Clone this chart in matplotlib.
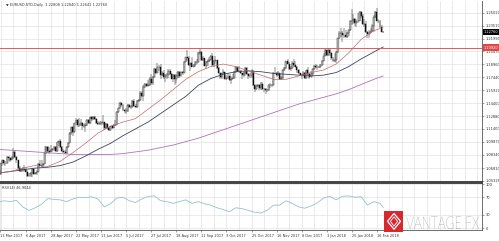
import matplotlib
matplotlib.use("Agg")
import matplotlib.pyplot as plt
import matplotlib.transforms as mtransforms
import numpy as np
import pandas as pd
from matplotlib.font_manager import FontProperties
from matplotlib.patches import PathPatch, Polygon, Rectangle
from matplotlib.textpath import TextPath

W, H = 499, 241

# EURUSD.STD daily bars, 13 Mar 2017 .. 22 Feb 2018 (no bars on 25 Dec / 1 Jan)
days = pd.bdate_range("2017-03-13", "2018-02-22")
days = days[~days.isin(pd.to_datetime(["2017-12-25", "2018-01-01"]))]

first_open = 1.067
closes = [
    # Mar
    1.066, 1.061, 1.074, 1.077, 1.074, 1.074, 1.081, 1.080, 1.078, 1.080, 1.087, 1.081, 1.077, 1.068, 1.065,
    # Apr
    1.067, 1.067, 1.066, 1.064, 1.059, 1.060, 1.062, 1.067, 1.061, 1.062, 1.064, 1.073, 1.071, 1.072, 1.073,
    1.086, 1.093, 1.088, 1.087, 1.089,
    # May
    1.090, 1.093, 1.088, 1.099, 1.100, 1.093, 1.088, 1.087, 1.086, 1.093, 1.098, 1.109, 1.116, 1.110, 1.121,
    1.124, 1.118, 1.118, 1.121, 1.117, 1.117, 1.118, 1.124,
    # Jun
    1.121, 1.128, 1.125, 1.128, 1.126, 1.121, 1.120, 1.121, 1.121, 1.122, 1.115, 1.120, 1.115, 1.113, 1.117,
    1.115, 1.119, 1.118, 1.134, 1.138, 1.144, 1.142,
    # Jul
    1.136, 1.135, 1.135, 1.142, 1.140, 1.140, 1.147, 1.141, 1.140, 1.147, 1.148, 1.156, 1.152, 1.163, 1.167,
    1.164, 1.165, 1.173, 1.168, 1.175, 1.184,
    # Aug
    1.180, 1.186, 1.186, 1.177, 1.179, 1.175, 1.177, 1.177, 1.182, 1.178, 1.173, 1.177, 1.172, 1.176, 1.181,
    1.176, 1.181, 1.180, 1.192, 1.198, 1.197, 1.189, 1.191,
    # Sep
    1.186, 1.189, 1.192, 1.192, 1.203, 1.204, 1.195, 1.197, 1.188, 1.192, 1.194, 1.195, 1.200, 1.189, 1.194,
    1.195, 1.185, 1.179, 1.175, 1.179, 1.181,
    # Oct
    1.173, 1.174, 1.176, 1.171, 1.173, 1.174, 1.181, 1.186, 1.182, 1.182, 1.179, 1.177, 1.179, 1.185, 1.178,
    1.176, 1.176, 1.181, 1.165, 1.161, 1.164, 1.165,
    # Nov
    1.162, 1.167, 1.161, 1.161, 1.160, 1.159, 1.165, 1.166, 1.166, 1.180, 1.179, 1.177, 1.179, 1.172, 1.174,
    1.183, 1.185, 1.193, 1.190, 1.184, 1.185, 1.191,
    # Dec
    1.189, 1.187, 1.183, 1.180, 1.177, 1.177, 1.180, 1.174, 1.183, 1.178, 1.175, 1.178, 1.184, 1.188, 1.187,
    1.186, 1.187, 1.189, 1.194, 1.200,
    # Jan
    1.206, 1.201, 1.207, 1.203, 1.197, 1.194, 1.195, 1.204, 1.220, 1.226, 1.226, 1.224, 1.224, 1.222, 1.226,
    1.230, 1.241, 1.240, 1.243, 1.238, 1.240, 1.241,
    # Feb
    1.251, 1.246, 1.237, 1.237, 1.227, 1.225, 1.226, 1.229, 1.235, 1.245, 1.251, 1.241, 1.241, 1.234, 1.2281,
    1.2276,
]
highs = [
    1.070, 1.067, 1.074, 1.078, 1.077, 1.076, 1.082, 1.082, 1.081, 1.082, 1.091, 1.088, 1.082, 1.078, 1.070,
    1.068, 1.069, 1.072, 1.069, 1.066, 1.062, 1.064, 1.068, 1.068, 1.063, 1.066, 1.074, 1.077, 1.078, 1.074,
    1.094, 1.094, 1.094, 1.093, 1.095,
    1.092, 1.094, 1.094, 1.099, 1.100, 1.102, 1.094, 1.090, 1.089, 1.094, 1.099, 1.110, 1.116, 1.117, 1.121,
    1.127, 1.126, 1.127, 1.126, 1.122, 1.120, 1.121, 1.126,
    1.126, 1.128, 1.129, 1.129, 1.129, 1.127, 1.123, 1.123, 1.123, 1.130, 1.122, 1.121, 1.121, 1.116, 1.117,
    1.119, 1.120, 1.124, 1.135, 1.139, 1.145, 1.145,
    1.143, 1.137, 1.138, 1.143, 1.143, 1.142, 1.148, 1.149, 1.143, 1.148, 1.149, 1.158, 1.158, 1.165, 1.168,
    1.168, 1.171, 1.175, 1.178, 1.176, 1.185,
    1.185, 1.191, 1.189, 1.190, 1.182, 1.183, 1.178, 1.180, 1.184, 1.184, 1.180, 1.178, 1.178, 1.178, 1.182,
    1.182, 1.182, 1.182, 1.194, 1.198, 1.207, 1.199, 1.191,
    1.198, 1.190, 1.193, 1.196, 1.204, 1.209, 1.205, 1.199, 1.197, 1.194, 1.196, 1.198, 1.201, 1.203, 1.195,
    1.200, 1.195, 1.187, 1.180, 1.180, 1.184,
    1.181, 1.177, 1.180, 1.178, 1.176, 1.178, 1.182, 1.188, 1.187, 1.188, 1.183, 1.180, 1.181, 1.186, 1.186,
    1.180, 1.179, 1.184, 1.183, 1.166, 1.167, 1.167,
    1.166, 1.169, 1.169, 1.162, 1.162, 1.161, 1.167, 1.168, 1.167, 1.181, 1.186, 1.181, 1.182, 1.180, 1.176,
    1.184, 1.186, 1.194, 1.196, 1.192, 1.188, 1.194,
    1.196, 1.194, 1.188, 1.184, 1.180, 1.178, 1.182, 1.181, 1.183, 1.186, 1.180, 1.182, 1.185, 1.189, 1.190,
    1.189, 1.188, 1.190, 1.195, 1.203,
    1.208, 1.206, 1.209, 1.209, 1.204, 1.198, 1.203, 1.205, 1.220, 1.229, 1.232, 1.229, 1.232, 1.230, 1.227,
    1.231, 1.242, 1.254, 1.249, 1.244, 1.243, 1.250,
    1.252, 1.252, 1.249, 1.243, 1.240, 1.229, 1.230, 1.232, 1.237, 1.247, 1.252, 1.256, 1.243, 1.242, 1.236,
    1.2284,
]
lows = [
    1.064, 1.060, 1.060, 1.071, 1.072, 1.071, 1.073, 1.076, 1.075, 1.077, 1.079, 1.080, 1.074, 1.067, 1.064,
    1.063, 1.064, 1.065, 1.063, 1.058, 1.057, 1.058, 1.058, 1.060, 1.061, 1.060, 1.064, 1.070, 1.069, 1.068,
    1.073, 1.085, 1.086, 1.085, 1.087,
    1.087, 1.088, 1.087, 1.087, 1.094, 1.092, 1.087, 1.086, 1.085, 1.085, 1.092, 1.097, 1.107, 1.106, 1.109,
    1.118, 1.116, 1.116, 1.117, 1.113, 1.115, 1.110, 1.117,
    1.120, 1.120, 1.123, 1.124, 1.124, 1.120, 1.118, 1.118, 1.119, 1.118, 1.113, 1.114, 1.114, 1.112, 1.112,
    1.114, 1.115, 1.117, 1.118, 1.133, 1.137, 1.140,
    1.135, 1.133, 1.132, 1.134, 1.138, 1.137, 1.138, 1.140, 1.138, 1.139, 1.145, 1.147, 1.151, 1.147, 1.162,
    1.163, 1.164, 1.164, 1.166, 1.166, 1.174,
    1.178, 1.179, 1.182, 1.173, 1.176, 1.172, 1.169, 1.172, 1.174, 1.177, 1.172, 1.169, 1.166, 1.168, 1.174,
    1.174, 1.175, 1.177, 1.179, 1.192, 1.193, 1.188, 1.182,
    1.186, 1.186, 1.187, 1.190, 1.191, 1.201, 1.193, 1.193, 1.188, 1.184, 1.188, 1.192, 1.195, 1.187, 1.186,
    1.190, 1.184, 1.178, 1.172, 1.173, 1.178,
    1.172, 1.171, 1.172, 1.170, 1.167, 1.172, 1.172, 1.179, 1.181, 1.180, 1.178, 1.173, 1.175, 1.176, 1.177,
    1.172, 1.174, 1.174, 1.164, 1.157, 1.160, 1.163,
    1.160, 1.160, 1.160, 1.157, 1.155, 1.157, 1.158, 1.162, 1.163, 1.164, 1.178, 1.175, 1.176, 1.171, 1.171,
    1.173, 1.182, 1.184, 1.190, 1.183, 1.182, 1.184,
    1.187, 1.186, 1.180, 1.178, 1.176, 1.173, 1.176, 1.173, 1.172, 1.177, 1.172, 1.175, 1.176, 1.183, 1.185,
    1.183, 1.185, 1.185, 1.188, 1.193,
    1.200, 1.200, 1.200, 1.200, 1.195, 1.192, 1.192, 1.191, 1.203, 1.219, 1.222, 1.216, 1.220, 1.222, 1.220,
    1.223, 1.229, 1.236, 1.237, 1.235, 1.234, 1.238,
    1.240, 1.244, 1.236, 1.234, 1.226, 1.221, 1.221, 1.226, 1.228, 1.227, 1.244, 1.240, 1.238, 1.232, 1.228,
    1.2264,
]

# moving averages, read every 8th bar (+ last bar)
ma_step = 8
ma_fast = [1.062, 1.064, 1.068, 1.071, 1.070, 1.076, 1.086, 1.097, 1.109, 1.117, 1.122, 1.126, 1.137, 1.148,
           1.160, 1.172, 1.181, 1.187, 1.190, 1.187, 1.182, 1.177, 1.172, 1.172, 1.176, 1.180, 1.183, 1.190,
           1.203, 1.219, 1.229, 1.233]
ma_slow = [1.062, 1.064, 1.066, 1.068, 1.069, 1.071, 1.075, 1.082, 1.090, 1.097, 1.106, 1.114, 1.122, 1.132,
           1.142, 1.152, 1.165, 1.173, 1.178, 1.181, 1.182, 1.181, 1.179, 1.178, 1.177, 1.176, 1.177, 1.180,
           1.187, 1.196, 1.204, 1.210]
ma_long = [1.090, 1.089, 1.088, 1.087, 1.086, 1.085, 1.084, 1.084, 1.084, 1.084, 1.085, 1.087, 1.089, 1.092,
           1.095, 1.099, 1.103, 1.108, 1.113, 1.118, 1.123, 1.128, 1.133, 1.138, 1.143, 1.147, 1.151, 1.155,
           1.160, 1.166, 1.172, 1.176]

# RSI(14), read every 4th bar (+ last bar)
rsi_step = 4
rsi = [58, 62, 60, 63, 48, 40, 46, 54, 67, 65, 64, 60, 66, 70, 69, 71, 66, 48, 55, 68,
       70, 62, 58, 66, 72, 73, 62, 60, 56, 60, 64, 56, 60, 55, 52, 46, 42, 37, 46, 44,
       40, 36, 34, 40, 52, 52, 62, 56, 48, 45, 50, 57, 68, 72, 64, 72, 73, 70, 71, 52,
       60, 56, 46.9044]
rsi_levels = [100, 70, 30, 0]

price_ticks = [1.25020, 1.23510, 1.21990, 1.20470, 1.18960, 1.17440, 1.15920, 1.14400,
               1.12880, 1.11400, 1.09870, 1.08340, 1.06810, 1.05325]
date_labels = ["13 Mar 2017", "6 Apr 2017", "28 Apr 2017", "22 May 2017", "13 Jun 2017", "5 Jul 2017",
               "27 Jul 2017", "18 Aug 2017", "11 Sep 2017", "3 Oct 2017", "25 Oct 2017", "16 Nov 2017",
               "8 Dec 2017", "3 Jan 2018", "25 Jan 2018", "16 Feb 2018"]
last_bar = (1.22808, 1.22840, 1.22641, 1.22760)
resistance = 1.2092

n = len(closes)
x = np.arange(n)
c = np.array(closes)
o = np.array([first_open] + closes[:-1])
h = np.array(highs)
l = np.array(lows)
up = c >= o

ma_x = np.append(np.arange(0, n, ma_step), n - 1)
rsi_x = np.append(np.arange(0, n, rsi_step), n - 1)

tick_idx = days.get_indexer(pd.to_datetime(date_labels, format="%d %b %Y")).astype(float)
x_left = 1.5
x_right = x_left + 482 / 1.567
tick_idx[0] = x_left
grid_x = np.arange(tick_idx[1] % 8, x_right, 8)

grid_c = "#dedede"
text_c = "#333333"
frame_c = "#555555"

fig = plt.figure(figsize=(W / 100, H / 100), dpi=100)
fig.patch.set_facecolor("white")

ax = fig.add_axes([0, (H - 182) / H, 482 / W, 181 / H])
rs = fig.add_axes([0, (H - 230) / H, 482 / W, 47 / H])

# price panel
ax.vlines(x, l, h, color="#111111", lw=0.35, zorder=2)
ax.bar(x[up], c[up] - o[up], bottom=o[up], width=0.62, color="white",
       edgecolor="#111111", lw=0.3, zorder=2.5)
ax.bar(x[~up], o[~up] - c[~up], bottom=c[~up], width=0.62, color="#111111",
       edgecolor="#111111", lw=0.3, zorder=2.5)
ax.plot(ma_x, ma_long, color="#b46fbe", lw=0.6, zorder=3)
ax.plot(ma_x, ma_slow, color="#3b4460", lw=0.6, zorder=3)
ax.plot(ma_x, ma_fast, color="#c06a6a", lw=0.5, zorder=3)
ax.axhline(resistance, color="#e25a5a", lw=0.7, zorder=3)

ax.set_xlim(x_left, x_right)
ax.set_ylim(1.0517, 1.2639)
ax.set_xticks(grid_x)
ax.tick_params(axis="x", length=0, labelbottom=False)
ax.yaxis.tick_right()
ax.set_yticks(price_ticks)
ax.set_yticklabels([f"{p:.5f}" for p in price_ticks])
ax.tick_params(axis="y", length=1.5, width=0.4, color=frame_c, labelsize=2.6,
               labelcolor=text_c, pad=1)
ax.grid(True, color=grid_c, lw=0.45)
ax.set_axisbelow(True)
for side in ("left", "top"):
    ax.spines[side].set_visible(False)
ax.spines["right"].set(color=frame_c, lw=0.6)
ax.spines["bottom"].set(color="#444444", lw=1.4)

ax.text(0.012, 0.99, "\u25bc EURUSD.STD,Daily  " + " ".join(f"{v:.5f}" for v in last_bar),
        transform=ax.transAxes, fontsize=2.5, color=text_c, va="top", ha="left")

tag = mtransforms.blended_transform_factory(ax.transAxes, ax.transData)
ax.text(1.004, last_bar[3], f"{last_bar[3]:.5f}", transform=tag, fontsize=2.5, color="white",
        va="center", ha="left", clip_on=False,
        bbox=dict(boxstyle="square,pad=0.35", fc="black", ec="black", lw=0))
ax.text(1.004, resistance, f"{resistance:.5f}", transform=tag, fontsize=2.5, color="white",
        va="center", ha="left", clip_on=False,
        bbox=dict(boxstyle="square,pad=0.35", fc="#e04848", ec="#e04848", lw=0))

# RSI panel
rs.plot(rsi_x, rsi, color="#93c1cb", lw=0.6)
rs.set_xlim(x_left, x_right)
rs.set_ylim(-4.5, 102.3)
rs.yaxis.tick_right()
rs.set_yticks(rsi_levels)
rs.set_yticklabels([str(v) for v in rsi_levels])
rs.tick_params(axis="y", length=1.5, width=0.4, color=frame_c, labelsize=2.6,
               labelcolor=text_c, pad=1)
rs.set_xticks(grid_x, minor=True)
rs.set_xticks(tick_idx)
rs.set_xticklabels(date_labels)
for lab in rs.get_xticklabels():
    lab.set_ha("left")
rs.tick_params(axis="x", which="both", length=1.2, width=0.4, color=frame_c, labelsize=2.5,
               labelcolor=text_c, pad=1.5)
rs.tick_params(axis="x", which="minor", length=0)
rs.grid(True, which="both", color=grid_c, lw=0.45)
rs.set_axisbelow(True)
rs.spines["left"].set_visible(False)
rs.spines["right"].set(color=frame_c, lw=0.6)
rs.spines["bottom"].set(color=frame_c, lw=0.6)
rs.spines["top"].set(color="#444444", lw=1.4)
rs.text(0.005, 0.93, f"RSI(14) {rsi[-1]:.4f}", transform=rs.transAxes, fontsize=2.5,
        color=text_c, va="top", ha="left")

# watermark logo, in pixel coordinates
ov = fig.add_axes([0, 0, 1, 1], zorder=5)
ov.set_xlim(0, W)
ov.set_ylim(H, 0)
ov.axis("off")
ov.add_patch(Rectangle((384.5, 211), 19, 20.5, color="#d7282f", lw=0))
ov.add_patch(Polygon([(394, 213.5), (400.5, 221.3), (394, 229.3), (387.5, 221.3)],
                     closed=True, fill=False, ec="white", lw=0.9))
ov.add_patch(Polygon([(394, 216.8), (397.6, 221.3), (394, 226.2), (390.4, 221.3)],
                     closed=True, fill=False, ec="white", lw=0.6))
tp = TextPath((0, 0), "VANTAGE FX", prop=FontProperties(family="Lato", weight="light"), size=10)
bb = tp.get_extents()
fit = (mtransforms.Affine2D().translate(-bb.x0, -bb.y0)
       .scale(72.5 / bb.width, -12.5 / bb.height).translate(406.5, 229))
ov.add_patch(PathPatch(fit.transform_path(tp), fc="#3b3b3b", lw=0))

fig.savefig("out.png", dpi=100, facecolor="white")
